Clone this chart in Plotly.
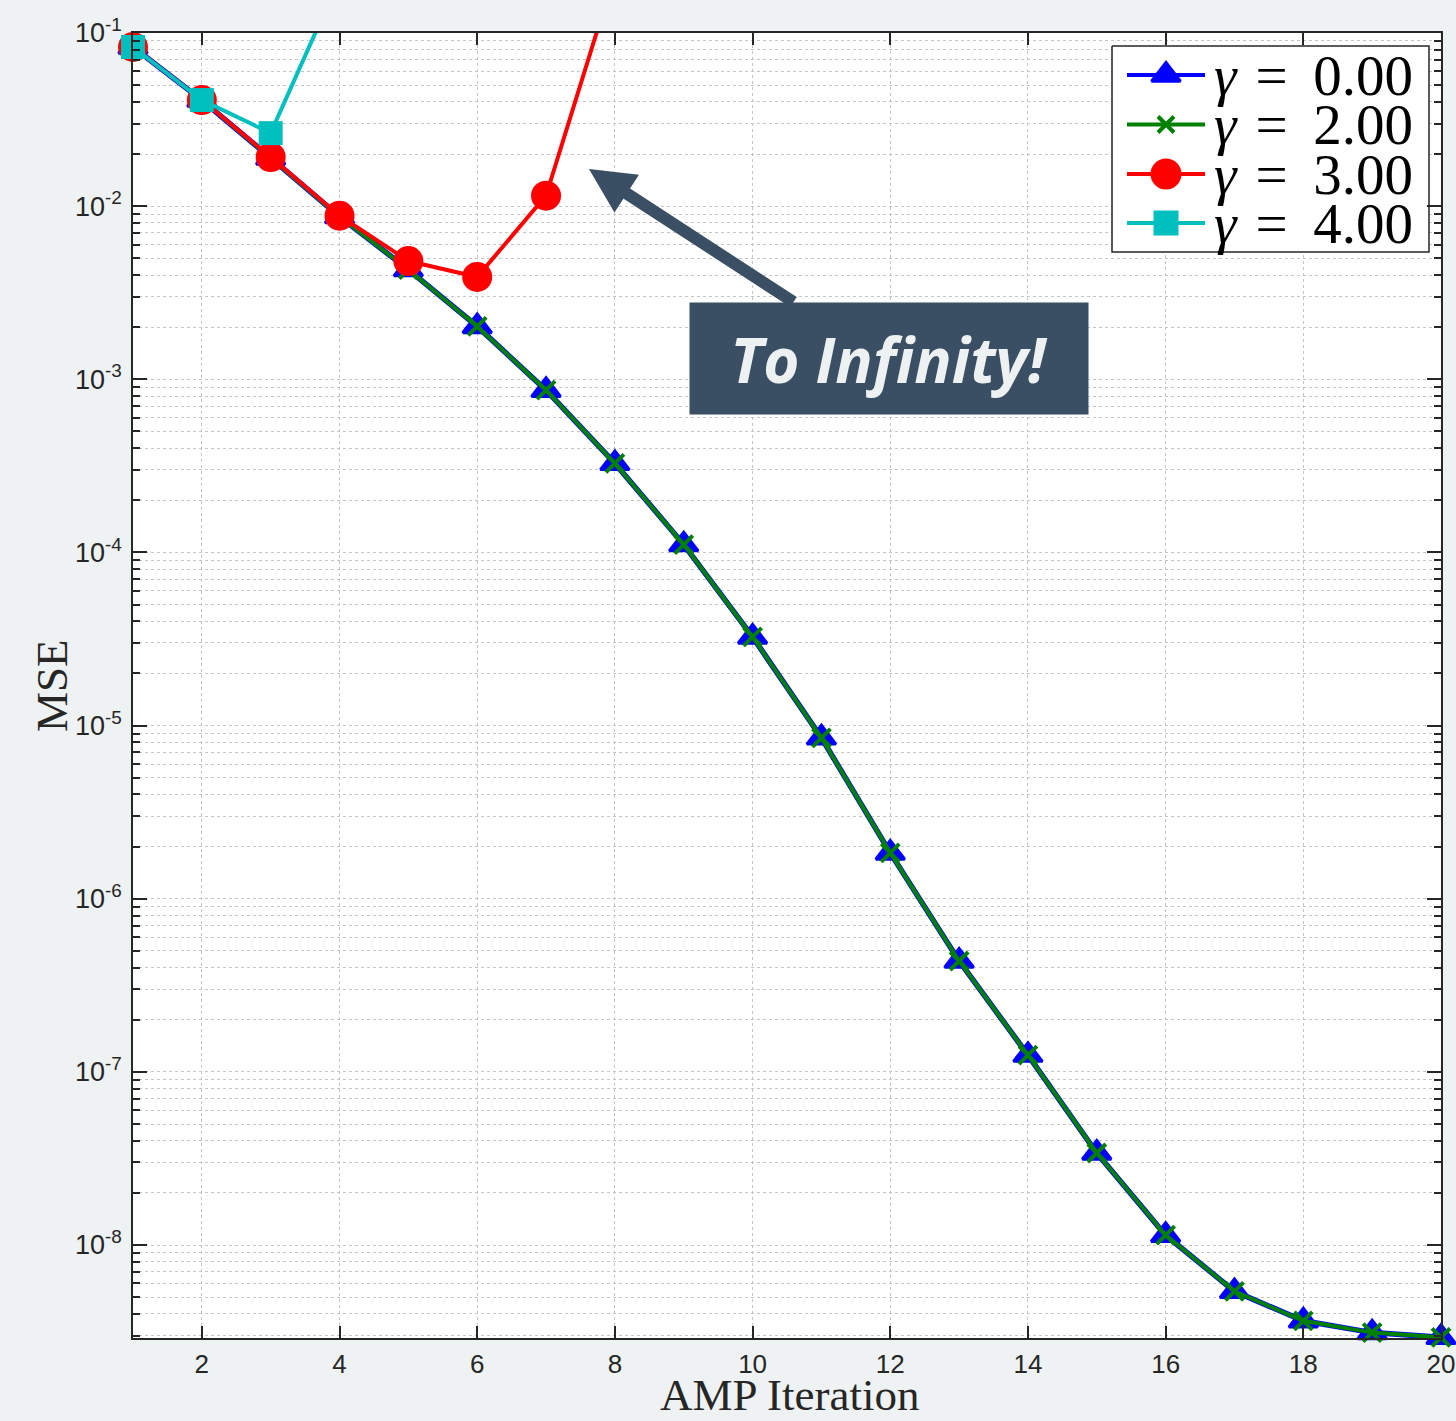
import plotly.graph_objects as go

# AMP iteration index
iterations = list(range(1, 21))

# MSE per iteration for each damping value gamma
mse_gamma_0 = [0.083, 0.041, 0.0190, 0.0087, 0.0043, 0.00202, 8.65e-4, 3.27e-4,
               1.11e-4, 3.25e-5, 8.5e-6, 1.84e-6, 4.37e-7, 1.25e-7, 3.4e-8,
               1.14e-8, 5.4e-9, 3.65e-9, 3.12e-9, 2.93e-9]
mse_gamma_2 = [0.083, 0.041, 0.0190, 0.0087, 0.0043, 0.00202, 8.65e-4, 3.27e-4,
               1.11e-4, 3.25e-5, 8.5e-6, 1.84e-6, 4.37e-7, 1.25e-7, 3.4e-8,
               1.14e-8, 5.4e-9, 3.65e-9, 3.12e-9, 2.93e-9]
iterations_gamma_3 = [1, 2, 3, 4, 5, 6, 7, 8]
mse_gamma_3 = [0.083, 0.041, 0.0192, 0.0088, 0.00482, 0.0039, 0.0115, 0.22]
iterations_gamma_4 = [1, 2, 3, 4]
mse_gamma_4 = [0.083, 0.041, 0.0264, 0.206]

gamma_values = ["0.00", "2.00", "3.00", "4.00"]

y_tick_exponents = [-1, -2, -3, -4, -5, -6, -7, -8]
x_tick_values = list(range(2, 21, 2))

x_title = "AMP Iteration"
y_title = "MSE"

# colours
BLUE = "#0000ff"
GREEN = "#008000"
RED = "#ff0000"
CYAN = "#00bfbf"
AXIS = "#262626"
GRID = "#c4c4c4"
PAPER = "#eff2f3"
CALLOUT = "#3a4f63"

W, H = 1456, 1421
ML, MR, MT, MB = 133, 15, 33, 83
PLOT_W, PLOT_H = W - ML - MR, H - MT - MB

fig = go.Figure()

fig.add_trace(go.Scatter(
    x=iterations, y=mse_gamma_0, mode="lines+markers", cliponaxis=False,
    line=dict(color=BLUE, width=5.5),
    marker=dict(symbol="triangle-up", size=25, color=BLUE, line=dict(color=BLUE, width=3)),
    showlegend=False))
fig.add_trace(go.Scatter(
    x=iterations, y=mse_gamma_2, mode="lines+markers", cliponaxis=False,
    line=dict(color=GREEN, width=4),
    marker=dict(symbol="x-thin", size=18, color=GREEN, line=dict(color=GREEN, width=4)),
    showlegend=False))
fig.add_trace(go.Scatter(
    x=iterations_gamma_3, y=mse_gamma_3, mode="lines+markers", cliponaxis=False,
    line=dict(color=RED, width=4),
    marker=dict(symbol="circle", size=30, color=RED, line=dict(width=0)),
    showlegend=False))
fig.add_trace(go.Scatter(
    x=iterations_gamma_4, y=mse_gamma_4, mode="lines+markers", cliponaxis=False,
    line=dict(color=CYAN, width=4),
    marker=dict(symbol="square", size=24, color=CYAN, line=dict(width=0)),
    showlegend=False))

# Hand-built legend, laid out in pixel space on an overlay axis pair
leg_box = (1112, 46, 1429, 252)
leg_rows = [75, 124.5, 174, 223]
leg_line = (1127, 1205)
leg_text_x = 1212
leg_styles = [
    dict(color=BLUE, line_w=4, marker=dict(symbol="triangle-up", size=25, color=BLUE, line=dict(color=BLUE, width=3))),
    dict(color=GREEN, line_w=4, marker=dict(symbol="x-thin", size=16, color=GREEN, line=dict(color=GREEN, width=4))),
    dict(color=RED, line_w=4, marker=dict(symbol="circle", size=31, color=RED, line=dict(width=0))),
    dict(color=CYAN, line_w=4, marker=dict(symbol="square", size=25, color=CYAN, line=dict(width=0))),
]

# legend frame: a filled closed path so it sits above the grid
bx0, by0, bx1, by1 = leg_box
fig.add_trace(go.Scatter(
    x=[bx0, bx1, bx1, bx0, bx0], y=[by0, by0, by1, by1, by0], xaxis="x2", yaxis="y2",
    mode="lines", fill="toself", fillcolor="white", line=dict(color=AXIS, width=1.5),
    showlegend=False, hoverinfo="skip"))

for row_y, style, gval in zip(leg_rows, leg_styles, gamma_values):
    mid = (leg_line[0] + leg_line[1]) / 2
    fig.add_trace(go.Scatter(
        x=[leg_line[0], mid, leg_line[1]], y=[row_y] * 3, xaxis="x2", yaxis="y2",
        mode="lines+markers", line=dict(color=style["color"], width=style["line_w"]),
        marker=dict(style["marker"], opacity=[0, 1, 0]),
        showlegend=False, hoverinfo="skip"))
    fig.add_annotation(xref="x2", yref="y2", x=leg_text_x, y=row_y,
                       text=f"<i>γ</i>\u200a = \u2009{gval}", showarrow=False,
                       xanchor="left", yanchor="middle",
                       font=dict(family="Liberation Serif", size=57, color="black"))

# Callout arrow and label
fig.add_annotation(xref="x2", yref="y2", axref="x2", ayref="y2",
                   x=589, y=169, ax=795, ay=303, text="", showarrow=True,
                   arrowhead=2, arrowsize=0.75, arrowwidth=12, arrowcolor=CALLOUT,
                   standoff=0, startstandoff=0)
fig.add_annotation(xref="x2", yref="y2", x=889, y=358.5,
                   text="To Infinity!", showarrow=False,
                   xanchor="center", yanchor="middle",
                   width=398, height=111, borderpad=0, bgcolor=CALLOUT,
                   font=dict(family="Open Sans", size=62, color="#eef1f2",
                             weight="bold", style="italic"))

# Axis titles, placed in paper space outside the plot frame
fig.add_annotation(xref="paper", yref="paper",
                   x=(790 - ML) / PLOT_W, y=-(1421 - (H - MB)) / PLOT_H,
                   text=x_title, showarrow=False, xanchor="center", yanchor="bottom",
                   borderpad=0, font=dict(family="Liberation Serif", size=45, color=AXIS))
fig.add_annotation(xref="paper", yref="paper",
                   x=(52 - ML) / PLOT_W, y=((H - MB) - 686) / PLOT_H,
                   text=y_title, showarrow=False, textangle=-90,
                   xanchor="center", yanchor="middle",
                   font=dict(family="Liberation Serif", size=45, color=AXIS))

minor_y = [m * 10.0 ** e for e in range(-9, -1) for m in range(2, 10) if 2.9e-9 < m * 10.0 ** e < 0.1]

fig.update_layout(
    width=W, height=H,
    margin=dict(l=ML, r=MR, t=MT, b=MB, autoexpand=False),
    paper_bgcolor=PAPER, plot_bgcolor="white",
    showlegend=False,
    xaxis=dict(
        range=[1, 20], tickvals=x_tick_values, automargin=False,
        ticks="inside", ticklen=12, tickwidth=1.5, tickcolor=AXIS,
        showline=True, linecolor=AXIS, linewidth=1.5, mirror="allticks",
        showgrid=True, gridcolor=GRID, griddash="dot", gridwidth=1,
        zeroline=False, ticklabelstandoff=2,
        tickfont=dict(family="Liberation Sans", size=26, color=AXIS),
    ),
    yaxis=dict(
        type="log", range=[-8.537, -1], automargin=False,
        tickvals=[10.0 ** e for e in y_tick_exponents],
        ticktext=[f"10<sup>{e}</sup>" for e in y_tick_exponents],
        ticks="inside", ticklen=14, tickwidth=1.5, tickcolor=AXIS,
        showline=True, linecolor=AXIS, linewidth=1.5, mirror="allticks",
        showgrid=True, gridcolor=GRID, griddash="dot", gridwidth=1,
        minor=dict(tickvals=minor_y, ticks="inside", ticklen=7, tickwidth=1.5,
                   tickcolor=AXIS, showgrid=True, gridcolor=GRID, griddash="dot", gridwidth=1),
        zeroline=False, ticklabelstandoff=4,
        tickfont=dict(family="Liberation Sans", size=27, color=AXIS),
    ),
    xaxis2=dict(overlaying="x", range=[ML, W - MR], visible=False, fixedrange=True),
    yaxis2=dict(overlaying="y", range=[H - MB, MT], visible=False, fixedrange=True),
)

fig.write_html("out.html")
